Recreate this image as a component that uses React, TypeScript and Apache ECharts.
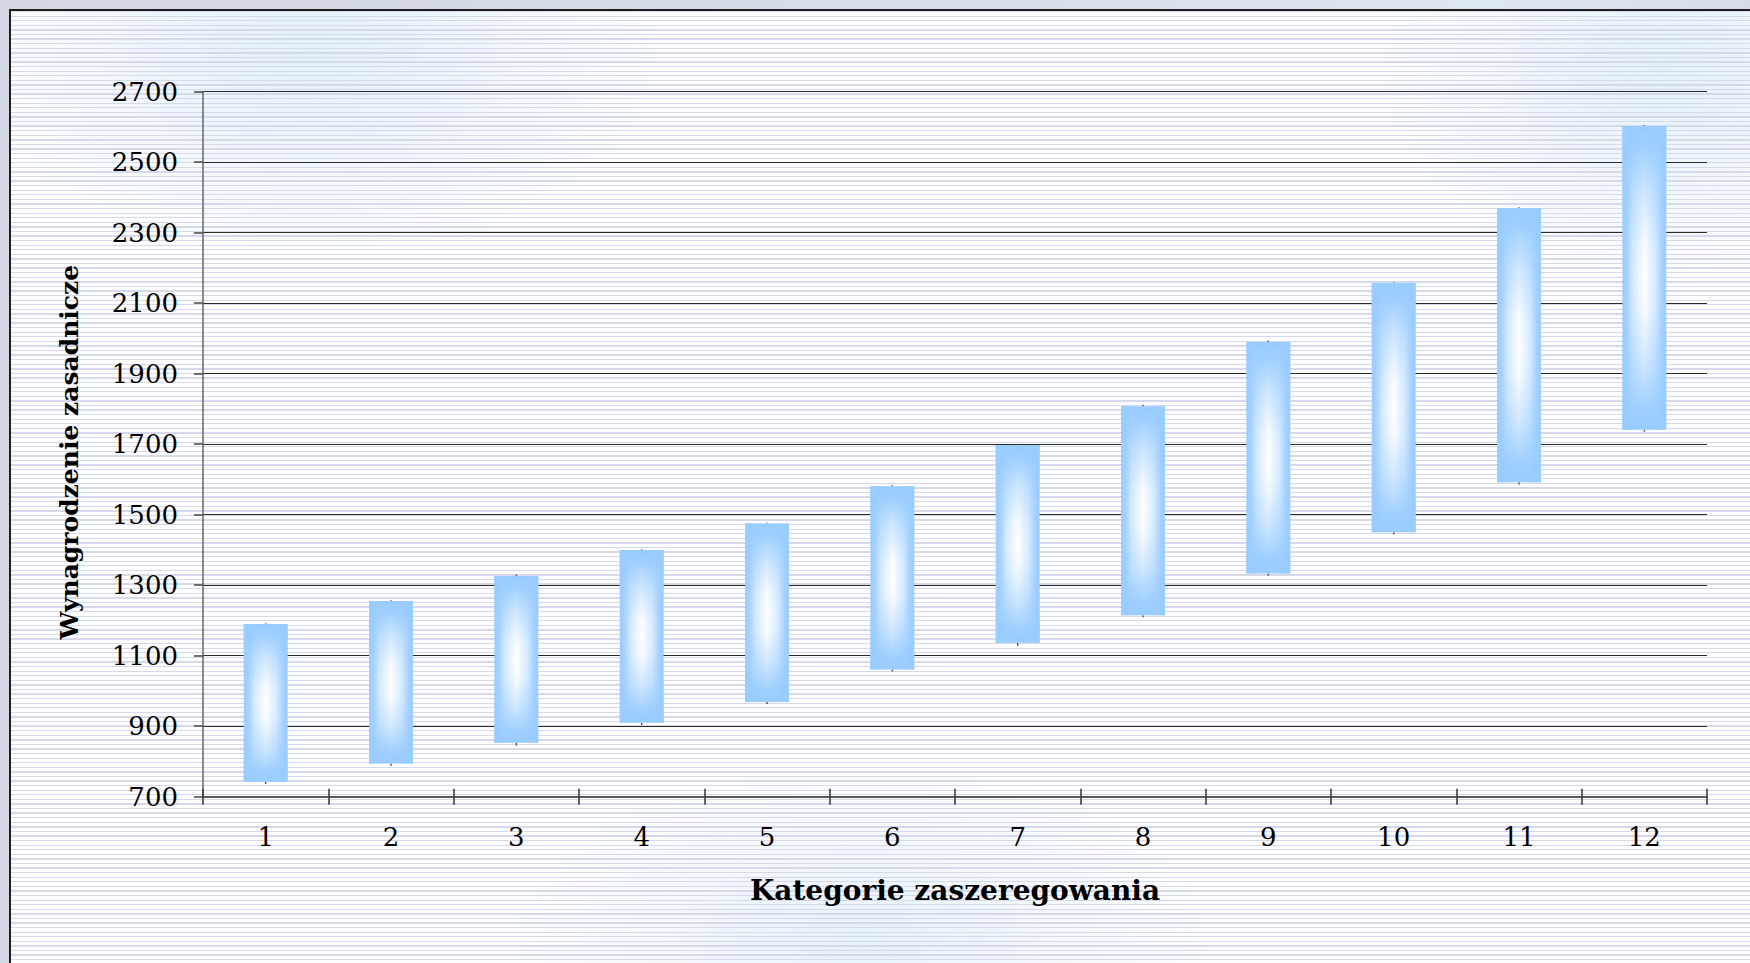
import React, { useEffect, useRef } from 'react';
import * as echarts from 'echarts';

const categories = ['1', '2', '3', '4', '5', '6', '7', '8', '9', '10', '11', '12'];
const barBottoms = [742, 794, 853, 910, 969, 1061, 1137, 1215, 1333, 1450, 1592, 1741];
const barTops = [1190, 1255, 1326, 1400, 1475, 1581, 1698, 1808, 1990, 2157, 2370, 2603];
const lowValues = [736, 788, 845, 903, 963, 1055, 1128, 1209, 1327, 1444, 1586, 1735];
const highValues = [1192, 1257, 1330, 1402, 1477, 1584, 1700, 1812, 1994, 2159, 2372, 2605];
const yMin = 700;
const yMax = 2700;
const yInterval = 200;
const xTitle = 'Kategorie zaszeregowania';
const yTitle = 'Wynagrodzenie zasadnicze';

const FONT = "'DejaVu Serif', 'Liberation Serif', serif";

export default function App() {
  const ref = useRef<HTMLDivElement>(null);

  useEffect(() => {
    if (!ref.current) return;
    const chart = echarts.init(ref.current, null, { renderer: 'svg' });
    const data = categories.map((_, i) => [i, lowValues[i], barBottoms[i], barTops[i], highValues[i]]);
    const gridTop = 91.7;
    const gridBottom = 963 - 796.7;

    chart.setOption({
      animation: false,
      backgroundColor: 'transparent',
      grid: { left: 203, right: 43, top: gridTop, bottom: gridBottom, containLabel: false },
      xAxis: [
        {
          type: 'category',
          data: categories,
          boundaryGap: true,
          position: 'bottom',
          axisLine: { show: true, lineStyle: { color: '#5a5a5a', width: 2 } },
          axisTick: { show: true, length: 8, alignWithLabel: false, lineStyle: { color: '#333', width: 1.5 } },
          axisLabel: { color: '#000', fontFamily: FONT, fontSize: 26, margin: 27 },
          splitLine: { show: false },
          name: xTitle,
          nameLocation: 'middle',
          nameGap: 80,
          nameTextStyle: { color: '#000', fontFamily: FONT, fontSize: 28, fontWeight: 'bold' },
        },
        {
          type: 'category',
          data: categories,
          boundaryGap: true,
          position: 'top',
          offset: -(963 - gridBottom - gridTop),
          axisLine: { show: false },
          axisTick: { show: true, length: 8, lineStyle: { color: '#333', width: 1.5 } },
          axisLabel: { show: false },
          splitLine: { show: false },
        },
      ],
      yAxis: {
        type: 'value',
        min: yMin,
        max: yMax,
        interval: yInterval,
        axisLine: { show: true, lineStyle: { color: '#666', width: 1.5 } },
        axisTick: { show: true, length: 9, lineStyle: { color: '#444', width: 1.5 } },
        axisLabel: {
          color: '#000',
          fontFamily: FONT,
          fontSize: 26,
          margin: 25,
          formatter: (v: number) => String(v),
        },
        splitLine: { show: true, lineStyle: { color: '#2a2a2a', width: 1.2 } },
        name: yTitle,
        nameLocation: 'middle',
        nameGap: 121,
        nameTextStyle: { color: '#000', fontFamily: FONT, fontSize: 25, fontWeight: 'bold', padding: [0, 16, 0, 0] },
      },
      series: [
        {
          type: 'custom',
          xAxisIndex: 0,
          yAxisIndex: 0,
          data,
          encode: { x: 0, y: [1, 2, 3, 4] },
          renderItem: (params: any, api: any) => {
            const x = api.value(0);
            const low = api.coord([x, api.value(1)]);
            const bottom = api.coord([x, api.value(2)]);
            const top = api.coord([x, api.value(3)]);
            const high = api.coord([x, api.value(4)]);
            const w = api.size([1, 0])[0] * 0.35;
            const shape = { x: top[0] - w / 2, y: top[1], width: w, height: bottom[1] - top[1] };
            return {
              type: 'group',
              children: [
                {
                  type: 'line',
                  shape: { x1: low[0], y1: low[1], x2: high[0], y2: high[1] },
                  style: { stroke: '#555', lineWidth: 1.5 },
                },
                {
                  type: 'rect',
                  shape,
                  style: {
                    fill: new echarts.graphic.LinearGradient(0, 0, 1, 0, [
                      { offset: 0, color: '#99ccff' },
                      { offset: 0.1, color: '#a6d2ff' },
                      { offset: 0.25, color: '#d6ebff' },
                      { offset: 0.5, color: '#ffffff' },
                      { offset: 0.75, color: '#d6ebff' },
                      { offset: 0.9, color: '#a6d2ff' },
                      { offset: 1, color: '#99ccff' },
                    ]),
                  },
                },
                {
                  type: 'rect',
                  shape,
                  style: {
                    fill: new echarts.graphic.LinearGradient(0, 0, 0, 1, [
                      { offset: 0, color: 'rgba(153,204,255,1)' },
                      { offset: 0.07, color: 'rgba(153,204,255,0.92)' },
                      { offset: 0.22, color: 'rgba(153,204,255,0.45)' },
                      { offset: 0.4, color: 'rgba(153,204,255,0.05)' },
                      { offset: 0.5, color: 'rgba(153,204,255,0)' },
                      { offset: 0.6, color: 'rgba(153,204,255,0.05)' },
                      { offset: 0.78, color: 'rgba(153,204,255,0.45)' },
                      { offset: 0.93, color: 'rgba(153,204,255,0.92)' },
                      { offset: 1, color: 'rgba(153,204,255,1)' },
                    ]),
                  },
                },
              ],
            };
          },
        },
      ],
    });
    return () => chart.dispose();
  }, []);

  const stripes =
    'repeating-linear-gradient(to bottom, #d6d9e9 0px, #d6d9e9 1.3px, rgba(255,255,255,0) 1.3px, rgba(255,255,255,0) 4.58px)';
  const glows =
    'radial-gradient(ellipse 500px 300px at 300px 40px, rgba(215,236,246,0.7), rgba(255,255,255,0) 70%), ' +
    'radial-gradient(ellipse 400px 300px at 1650px 60px, rgba(215,236,246,0.7), rgba(255,255,255,0) 70%), ' +
    'radial-gradient(ellipse 500px 250px at 850px 930px, rgba(215,236,246,0.6), rgba(255,255,255,0) 70%)';

  return (
    <div
      style={{
        position: 'fixed',
        left: 0,
        top: 0,
        width: 1750,
        height: 963,
        overflow: 'hidden',
        background: 'linear-gradient(90deg, #d3d8e4 0%, #d8dfe9 60%, #dde7ef 85%, #d6dde8 100%)',
      }}
    >
      <div
        style={{
          position: 'absolute',
          left: 9,
          top: 9,
          right: 0,
          bottom: 0,
          borderLeft: '2px solid #1e1e1e',
          borderTop: '2px solid #1e1e1e',
          backgroundColor: '#fdfdff',
          backgroundImage: stripes + ', ' + glows,
        }}
      />
      <div ref={ref} style={{ position: 'absolute', left: 0, top: 0, width: 1750, height: 963 }} />
    </div>
  );
}
